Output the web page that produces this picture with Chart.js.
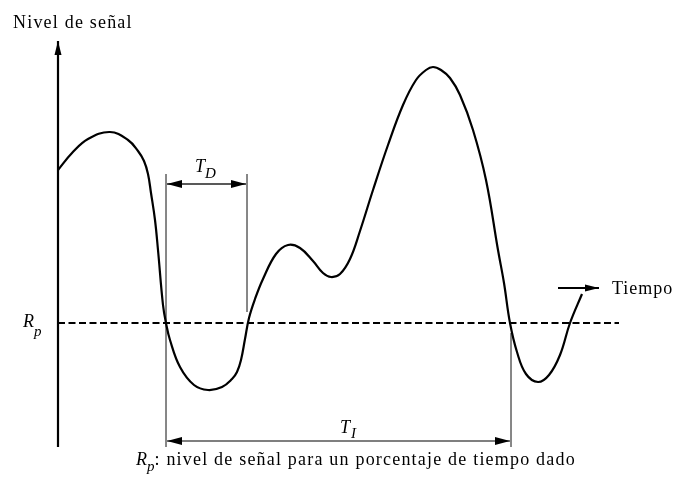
<!DOCTYPE html>
<html><head><meta charset="utf-8">
<script src="https://cdn.jsdelivr.net/npm/chart.js@4/dist/chart.umd.min.js"></script>
<style>html,body{margin:0;padding:0;background:#fff;}canvas{display:block}</style>
</head><body>
<canvas id="c" width="676" height="503"></canvas>
<script>
// Signal curve (time units, level relative to Rp)
const curveTime  = [0,14,30,52,70,80,86,90,93,97,100,105,108,112,122,136,150,164,174,179,183,187,191,197,205,218,230,242,255,265,273,282,292,302,315,330,345,358,368,375,383,392,402,415,428,440,446,452,459,468,480,491,502,512,524];
const curveLevel = [153,170,184,191,183,172,162,149,130,103,73,18,0,-17,-44,-62,-67,-64,-56,-49,-37,-16,5,24,44,69,78,75,62,50,46,49,64,92,133,178,218,243,253,256,253,245,228,193,143,73,40,0,-29,-51,-59,-52,-32,0,29];

// Reference level and axis extents
const RP = 0;
const rpLineTime = [0, 561];
const yAxisLevel = [-124, 282];

// Time intervals T_D and T_I
const tdTime = [108, 189];
const tiTime = [108, 453];
const tdArrowLevel = 139;
const tiArrowLevel = -118;
const guideTop = 149, guideBottom = -124;
const tdRightBottom = 11;
const tiRightTop = -10;

// "Tiempo" arrow
const timeArrowTime = [500, 541];
const timeArrowLevel = 35;

const pts = (xs, ys) => xs.map((x, i) => ({x, y: ys[i]}));
const seg = (x0, y0, x1, y1) => [{x: x0, y: y0}, {x: x1, y: y1}];

const datasets = [
  {data: pts(curveTime, curveLevel), borderColor: '#000', borderWidth: 2.2, tension: 0.4},
  {data: seg(rpLineTime[0], RP, rpLineTime[1], RP), borderColor: '#000', borderWidth: 2, borderDash: [7, 3.5]},
  {data: seg(0, yAxisLevel[0], 0, yAxisLevel[1]), borderColor: '#000', borderWidth: 2.2, arrowEnd: {len: 14, w: 3.5}},
  {data: seg(tdTime[0], guideTop, tdTime[0], guideBottom), borderColor: '#777', borderWidth: 1},
  {data: seg(tdTime[1], guideTop, tdTime[1], tdRightBottom), borderColor: '#777', borderWidth: 1},
  {data: seg(tiTime[1], tiRightTop, tiTime[1], guideBottom), borderColor: '#777', borderWidth: 1},
  {data: seg(tdTime[0] + 1, tdArrowLevel, tdTime[1] - 1, tdArrowLevel), borderColor: '#222', borderWidth: 1.3, arrowEnd: {len: 15, w: 4}, arrowStart: {len: 15, w: 4}},
  {data: seg(tiTime[0] + 1, tiArrowLevel, tiTime[1] - 1, tiArrowLevel), borderColor: '#555', borderWidth: 1.3, arrowEnd: {len: 15, w: 4}, arrowStart: {len: 15, w: 4}},
  {data: seg(timeArrowTime[0], timeArrowLevel, timeArrowTime[1], timeArrowLevel), borderColor: '#000', borderWidth: 2, arrowEnd: {len: 14, w: 3.5}}
].map(d => Object.assign({showLine: true, pointRadius: 0, fill: false}, d));

function head(ctx, from, to, sz) {
  const ang = Math.atan2(to.y - from.y, to.x - from.x);
  ctx.save();
  ctx.translate(to.x, to.y);
  ctx.rotate(ang);
  ctx.beginPath();
  ctx.moveTo(0, 0);
  ctx.lineTo(-sz.len, -sz.w);
  ctx.lineTo(-sz.len, sz.w);
  ctx.closePath();
  ctx.fillStyle = '#000';
  ctx.fill();
  ctx.restore();
}

const SERIF = '"Liberation Serif", serif';

const overlay = {
  id: 'overlay',
  afterDatasetsDraw(chart) {
    const ctx = chart.ctx;
    chart.data.datasets.forEach((ds, i) => {
      const p = chart.getDatasetMeta(i).data;
      if (ds.arrowEnd) head(ctx, p[p.length - 2], p[p.length - 1], ds.arrowEnd);
      if (ds.arrowStart) head(ctx, p[1], p[0], ds.arrowStart);
    });
    const X = v => chart.scales.x.getPixelForValue(v);
    const Y = v => chart.scales.y.getPixelForValue(v);
    ctx.save();
    ctx.fillStyle = '#000';
    ctx.textBaseline = 'alphabetic';
    ctx.textAlign = 'left';
    const txt = (s, x, y, font, ls) => {
      ctx.font = font;
      ctx.letterSpacing = (ls || 0) + 'px';
      ctx.fillText(s, x, y);
      const w = ctx.measureText(s).width;
      return x + w;
    };
    const REG = '18px ' + SERIF, IT = 'italic 18px ' + SERIF, SUB = 'italic 15px ' + SERIF;
    txt('Nivel de señal', X(-45), Y(295), REG, 1.2);
    txt('Tiempo', X(554), Y(29), REG, 1);
    let x = txt('R', X(-35), Y(-4), IT);
    txt('p', x, Y(-4) + 9, SUB);
    x = txt('T', X(137), Y(151), IT);
    txt('D', x, Y(151) + 6, SUB);
    x = txt('T', X(282), Y(-110), IT);
    txt('I', x + 1, Y(-110) + 5, SUB);
    x = txt('R', X(78), Y(-142), IT);
    x = txt('p', x, Y(-142) + 6, SUB);
    txt(': nivel de señal para un porcentaje de tiempo dado', x, Y(-142), REG, 1.2);
    ctx.restore();
  }
};

new Chart(document.getElementById('c'), {
  type: 'scatter',
  data: {datasets},
  options: {
    responsive: false,
    animation: false,
    layout: {padding: 0},
    plugins: {legend: {display: false}, tooltip: {enabled: false}},
    scales: {
      x: {type: 'linear', min: -58, max: 618, display: false},
      y: {type: 'linear', min: -180, max: 323, display: false}
    }
  },
  plugins: [overlay]
});
</script>
</body></html>
